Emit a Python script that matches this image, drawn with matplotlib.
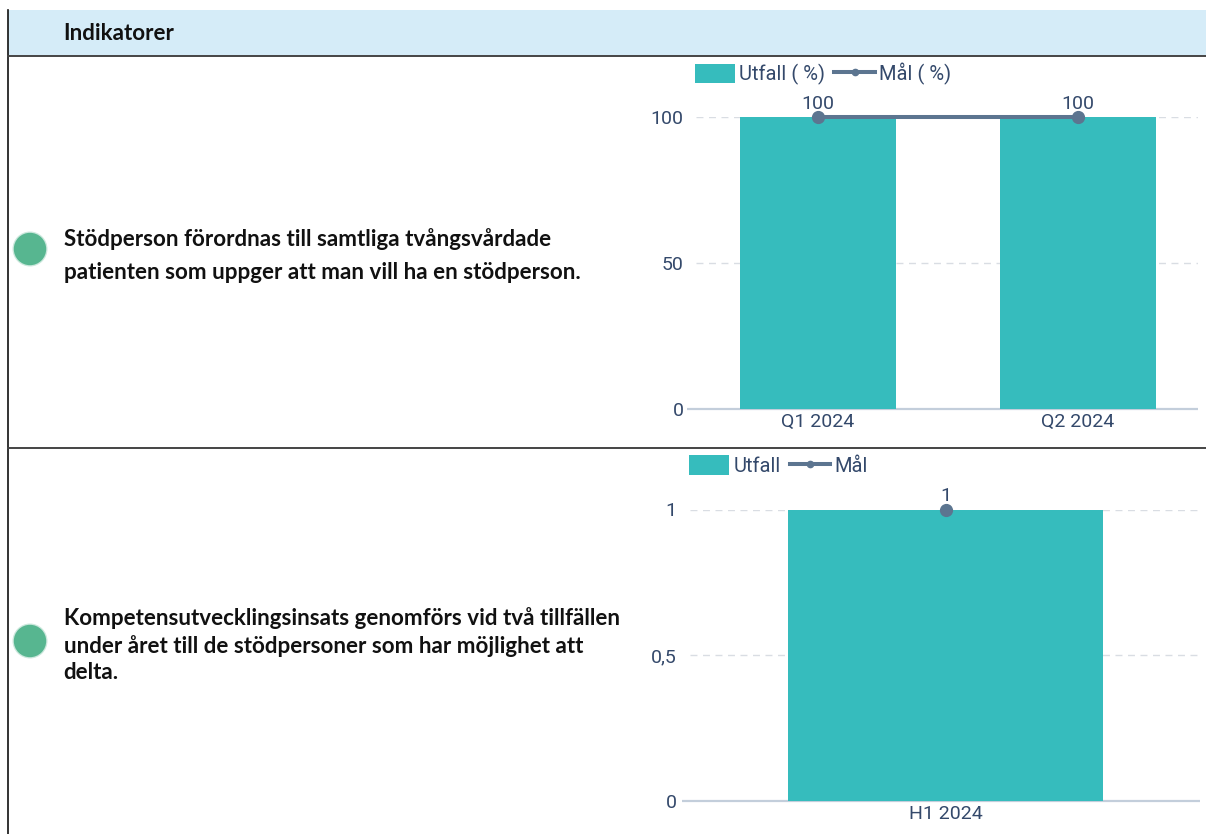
import matplotlib.pyplot as plt
from matplotlib.lines import Line2D
from matplotlib.patches import Circle, Patch, Rectangle

W, H = 1206, 834

# chart data
quarters = ['Q1 2024', 'Q2 2024']
utfall_q = [100, 100]
mal_q = [100, 100]
yticks_q = [0, 50, 100]
yticklabels_q = ['0', '50', '100']

halves = ['H1 2024']
utfall_h = [1]
mal_h = [1]
yticks_h = [0, 0.5, 1]
yticklabels_h = ['0', '0,5', '1']

header = 'Indikatorer'
indicator_1 = 'Stödperson förordnas till samtliga tvångsvårdade\npatienten som uppger att man vill ha en stödperson.'
indicator_2 = 'Kompetensutvecklingsinsats genomförs vid två tillfällen\nunder året till de stödpersoner som har möjlighet att\ndelta.'

BAR = '#36bcbd'
LINE = '#5c7590'
TEXT = '#34496b'
GRID = '#d9dde3'
BASE = '#c3cedb'
DOT = '#57b690'
FS = 14


def px_axes(fig, left, right, top, bottom):
    # axes placed by pixel edges, y measured from the top of the image
    return fig.add_axes([left / W, 1 - bottom / H, (right - left) / W, (bottom - top) / H])


def draw_chart(ax, cats, bars, target, ticks, ticklabels, xlim, bar_name, line_name, base_left, legend_xy, tick_pad):
    x = list(range(len(cats)))
    ax.bar(x, bars, width=0.6, color=BAR, zorder=2)
    ax.plot(x, target, color=LINE, lw=2.9, marker='o', ms=8.5, zorder=3, clip_on=False)
    for xi, v in zip(x, target):
        ax.annotate(f'{v}', (xi, v), xytext=(0, 3), textcoords='offset points',
                    ha='center', va='bottom', fontsize=FS, color=TEXT, family='Roboto')
    ax.set_xlim(*xlim)
    ax.set_ylim(0, ticks[-1])
    ax.set_xticks(x, cats)
    ax.set_yticks(ticks, ticklabels)
    ax.tick_params(axis='both', length=0, labelsize=FS, labelcolor=TEXT)
    ax.tick_params(axis='y', pad=tick_pad)
    ax.tick_params(axis='x', pad=3)
    for lab in ax.get_xticklabels() + ax.get_yticklabels():
        lab.set_family('Roboto')
    ax.yaxis.grid(True, color=GRID, lw=1, ls=(0, (5, 4)), zorder=0)
    ax.set_axisbelow(True)
    for s in ['top', 'right', 'left', 'bottom']:
        ax.spines[s].set_visible(False)
    # baseline sticks out a little left of the grid lines
    ax.plot([base_left, 1], [0, 0], transform=ax.get_yaxis_transform(), color=BASE,
            lw=1.6, clip_on=False, zorder=1, solid_capstyle='butt')
    handles = [Patch(facecolor=BAR, label=bar_name),
               Line2D([], [], color=LINE, lw=2.9, marker='o', ms=4.5, label=line_name)]
    ax.legend(handles=handles, ncol=2, frameon=False, loc='lower left',
              bbox_to_anchor=(legend_xy[0] / W, 1 - legend_xy[1] / H),
              bbox_transform=ax.figure.transFigure, borderpad=0, borderaxespad=0,
              prop={'family': 'Roboto', 'size': 14.5}, labelcolor=TEXT,
              handlelength=2.0, handleheight=1.1, handletextpad=0.2, columnspacing=0.45)


fig = plt.figure(figsize=(W / 100, H / 100), dpi=100)

# table behind the charts, in image pixels
bg = fig.add_axes([0, 0, 1, 1])
bg.set_xlim(0, W)
bg.set_ylim(H, 0)
bg.axis('off')
bg.add_patch(Rectangle((8, 10), W - 8, 45, color='#d5ecf8', lw=0))
bg.plot([7.5, 7.5], [10, H], color='#111111', lw=1.2)
bg.plot([8, W], [55.5, 55.5], color='#444444', lw=1.4)
bg.plot([8, W], [448, 448], color='#444444', lw=1.4)
for cy in [249, 641]:
    bg.add_patch(Circle((30, cy), 17.5, color=DOT, alpha=0.3, lw=0))
    bg.add_patch(Circle((30, cy), 16.2, color=DOT, lw=0))
bg.text(63.5, 33, header, fontsize=16.1, fontweight='bold', family='Lato', va='center', color='#111111')
bg.text(63.5, 255.5, indicator_1, fontsize=16.1, fontweight='bold', family='Lato', va='center',
        color='#111111', linespacing=1.7)
bg.text(63.5, 645, indicator_2, fontsize=16.1, fontweight='bold', family='Lato', va='center',
        color='#111111', linespacing=1.33)

# top chart: band 260 px wide, category 0 centred at 818
ax1 = px_axes(fig, 696, 1198, 117, 408.5)
draw_chart(ax1, quarters, utfall_q, mal_q, yticks_q, yticklabels_q,
           ((696 - 818) / 260, (1198 - 818) / 260),
           'Utfall ( %)', 'Mål ( %)', -0.018, (695, 85), 9)

# bottom chart: band 525 px wide, category 0 centred at 945.5
ax2 = px_axes(fig, 690, 1200, 509.5, 800.5)
draw_chart(ax2, halves, utfall_h, mal_h, yticks_h, yticklabels_h,
           ((690 - 945.5) / 525, (1200 - 945.5) / 525),
           'Utfall', 'Mål', -0.016, (689, 476), 9.5)

fig.savefig('out.png', dpi=100)
